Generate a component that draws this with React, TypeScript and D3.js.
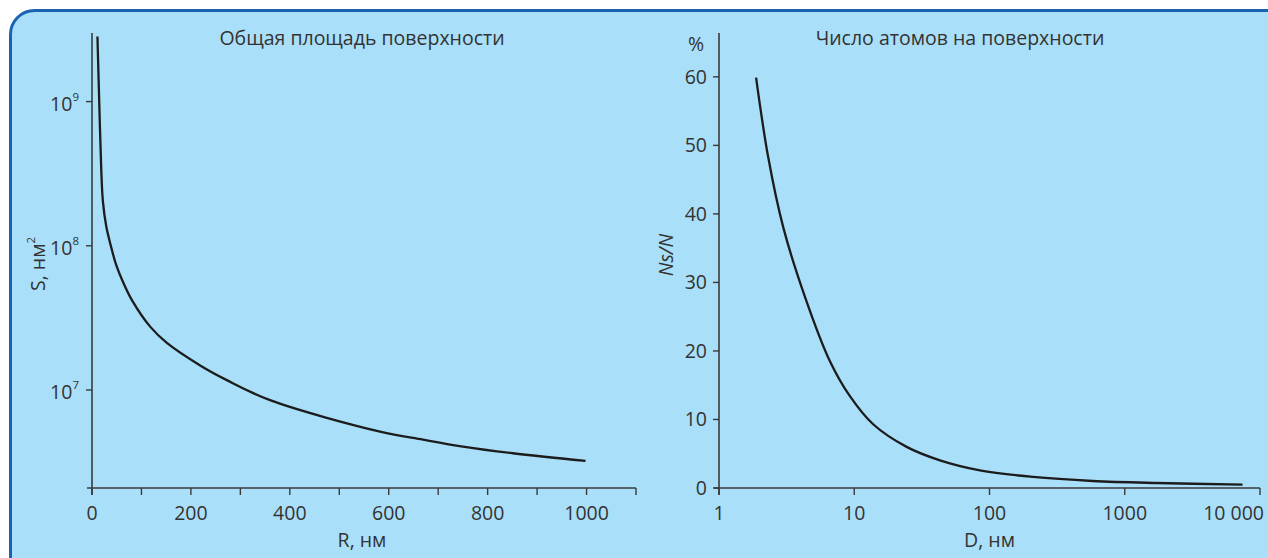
import React from "react";
import * as d3 from "d3";

// ---- Data: left panel (total surface area vs radius) ----
const radiusNm = [11, 14.6, 18.6, 22, 28.7, 38.2, 48.9, 64.5, 80.7, 117.6, 151.4, 218.7, 272.7, 360, 582.6, 669.5, 750, 851, 998];
const areaNm2 = [2.83e9, 1.0e9, 3.46e8, 2.04e8, 1.37e8, 9.96e7, 7.36e7, 5.43e7, 4.2e7, 2.75e7, 2.12e7, 1.48e7, 1.17e7, 8.5e6, 5.14e6, 4.52e6, 4.05e6, 3.64e6, 3.22e6];
const leftXTicks = [0, 100, 200, 300, 400, 500, 600, 700, 800, 900, 1000, 1100];
const leftXLabels = [0, 200, 400, 600, 800, 1000];
const leftYExponents = [9, 8, 7];

// ---- Data: right panel (surface atoms fraction vs diameter) ----
const diameterNm = [1.88, 2.31, 2.99, 4.32, 6.61, 9.29, 13.8, 24.4, 43, 84.9, 209, 581, 1718, 7430];
const surfacePct = [59.9, 48.3, 38.0, 27.9, 18.5, 13.4, 9.3, 6.0, 4.04, 2.58, 1.61, 1.02, 0.73, 0.5];
const rightXTicks = [1, 10, 100, 1000, 10000];
const rightXLabels = ["1", "10", "100", "1000", "10 000"];
const rightYTicks = [0, 10, 20, 30, 40, 50, 60];

const titleLeft = "Общая площадь поверхности";
const titleRight = "Число атомов на поверхности";

const FONT = "'Open Sans', 'Noto Sans', sans-serif";
const TXT = "#333333";
const AX = "#3a3a3a";

export default function App() {
  const W = 1268, H = 558;
  const axisTop = 33, axisY = 488;

  const xL = d3.scaleLinear().domain([0, 1100]).range([92, 636]);
  const yL = d3.scaleLog().domain([2.09e6, 2.99e9]).range([axisY, axisTop]);
  const xR = d3.scaleLog().domain([1, 10000]).range([719, 1260]);
  const yR = d3.scaleLinear().domain([0, 66.4]).range([axisY, axisTop]);

  const leftLine = d3
    .line<number>()
    .x((_, i) => xL(radiusNm[i]))
    .y((d) => yL(d))
    .curve(d3.curveCatmullRom.alpha(0.5))(areaNm2) as string;

  const rightLine = d3
    .line<number>()
    .x((_, i) => xR(diameterNm[i]))
    .y((d) => yR(d))
    .curve(d3.curveCatmullRom.alpha(0.5))(surfacePct) as string;

  const lx0 = xL(0);
  const rx0 = xR(1);
  const fs = 19.5;

  return (
    <svg
      width={W}
      height={H}
      style={{ position: "absolute", left: 0, top: 0, background: "#ffffff" }}
      fontFamily={FONT}
    >
      <rect x={10.5} y={10.5} width={1300} height={620} rx={24} fill="#aadff9" stroke="#1a63b3" strokeWidth={3} />

      {/* ---------- Left panel ---------- */}
      <text x={362} y={45} textAnchor="middle" fontSize={fs} fill={TXT}>{titleLeft}</text>
      <line x1={lx0 - 5} x2={xL(1100)} y1={axisY} y2={axisY} stroke={AX} strokeWidth={1.6} />
      <line x1={lx0} x2={lx0} y1={axisTop} y2={axisY + 7} stroke={AX} strokeWidth={1.6} />
      {leftXTicks.map((t) => (
        <line key={"lxt" + t} x1={xL(t)} x2={xL(t)} y1={axisY} y2={axisY + 7} stroke={AX} strokeWidth={1.4} />
      ))}
      {leftXLabels.map((t) => (
        <text key={"lxl" + t} x={xL(t)} y={520} textAnchor="middle" fontSize={fs} fill={TXT}>{t}</text>
      ))}
      {leftYExponents.map((e) => (
        <g key={"lyt" + e}>
          <line x1={lx0 - 6} x2={lx0} y1={yL(Math.pow(10, e))} y2={yL(Math.pow(10, e))} stroke={AX} strokeWidth={1.4} />
          <text x={lx0 - 13} y={yL(Math.pow(10, e)) + 9} textAnchor="end" fontSize={fs} fill={TXT}>
            10<tspan dy={-10} fontSize={11.5}>{e}</tspan>
          </text>
        </g>
      ))}
      <text transform="translate(45,264) rotate(-90)" textAnchor="middle" fontSize={fs} fill={TXT}>
        S, нм<tspan dy={-10} fontSize={11.5}>2</tspan>
      </text>
      <text x={362} y={547} textAnchor="middle" fontSize={fs} fill={TXT}>R, нм</text>
      <path d={leftLine} fill="none" stroke="#1c1c1c" strokeWidth={2.3} />

      {/* ---------- Right panel ---------- */}
      <text x={960} y={45} textAnchor="middle" fontSize={fs} fill={TXT}>{titleRight}</text>
      <line x1={rx0 - 5} x2={xR(10000)} y1={axisY} y2={axisY} stroke={AX} strokeWidth={1.6} />
      <line x1={rx0} x2={rx0} y1={axisTop} y2={axisY + 7} stroke={AX} strokeWidth={1.6} />
      {rightXTicks.map((t, i) => (
        <g key={"rxt" + t}>
          <line x1={xR(t)} x2={xR(t)} y1={axisY} y2={axisY + 7} stroke={AX} strokeWidth={1.4} />
          <text
            x={i === rightXTicks.length - 1 ? xR(t) + 4 : xR(t)}
            y={520}
            textAnchor={i === rightXTicks.length - 1 ? "end" : "middle"}
            fontSize={fs}
            fill={TXT}
          >
            {rightXLabels[i]}
          </text>
        </g>
      ))}
      {rightYTicks.map((t) => (
        <g key={"ryt" + t}>
          <line x1={rx0 - 6} x2={rx0} y1={yR(t)} y2={yR(t)} stroke={AX} strokeWidth={1.4} />
          <text x={rx0 - 12} y={yR(t) + 7} textAnchor="end" fontSize={fs} fill={TXT}>{t}</text>
        </g>
      ))}
      <text x={696} y={51} textAnchor="middle" fontSize={fs} fill={TXT}>%</text>
      <text transform="translate(673,255) rotate(-90)" textAnchor="middle" fontSize={fs} fontStyle="italic" fill={TXT}>
        Ns/N
      </text>
      <text x={xR(100)} y={547} textAnchor="middle" fontSize={fs} fill={TXT}>D, нм</text>
      <path d={rightLine} fill="none" stroke="#1c1c1c" strokeWidth={2.3} />
    </svg>
  );
}
